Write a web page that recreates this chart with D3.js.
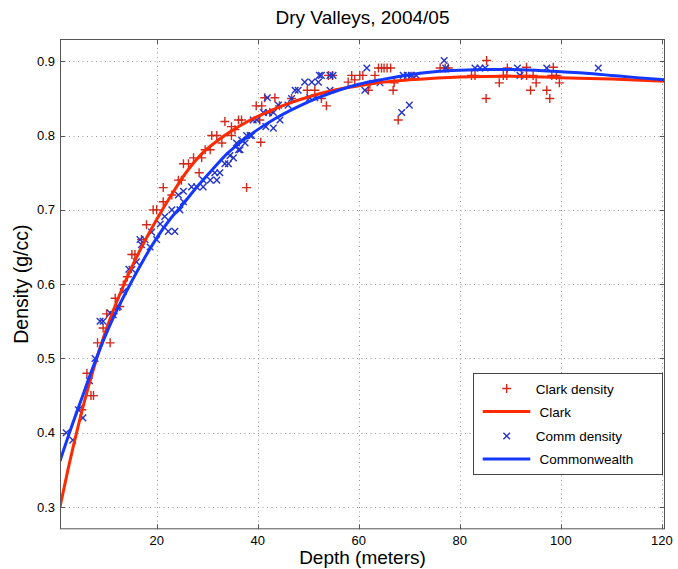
<!DOCTYPE html>
<html>
<head>
<meta charset="utf-8">
<script src="https://cdn.jsdelivr.net/npm/d3@7"></script>
<style>
  body { margin: 0; background: #fff; }
  text { font-family: "Liberation Sans", Arial, Helvetica, sans-serif; fill: #000; }
</style>
</head>
<body>
<svg id="chart" width="678" height="569"></svg>
<script>
// measured samples, [depth m, density g/cc]
var clarkSamples = [
  [5.2,0.431],[6.2,0.480],[7.0,0.450],[7.5,0.450],[8.3,0.521],[9.4,0.541],[10.1,0.560],
  [10.8,0.521],[11.4,0.560],[11.8,0.581],[12.7,0.570],[13.4,0.599],[14.2,0.610],[15.1,0.640],
  [15.7,0.640],[17.0,0.660],[18.0,0.680],[19.3,0.700],[20.0,0.700],[21.3,0.730],[21.3,0.711],
  [23.0,0.720],[24.3,0.740],[24.9,0.740],[25.3,0.762],[26.3,0.762],[27.3,0.770],[28.4,0.750],
  [28.9,0.770],[29.6,0.781],[30.6,0.781],[30.9,0.800],[31.9,0.800],[32.9,0.790],[33.5,0.819],
  [34.8,0.812],[34.8,0.800],[35.5,0.808],[36.2,0.821],[36.8,0.821],[37.8,0.730],[39.7,0.840],
  [40.4,0.821],[40.6,0.791],[40.8,0.840],[41.4,0.851],[42.4,0.831],[43.4,0.851],[44.3,0.840],
  [46.7,0.850],[49.8,0.861],[51.3,0.861],[52.6,0.850],[53.6,0.840],[54.0,0.881],[54.8,0.881],
  [57.9,0.872],[58.6,0.881],[59.2,0.875],[60.2,0.881],[60.8,0.881],[61.9,0.861],[62.2,0.869],
  [63.2,0.881],[63.9,0.891],[64.5,0.891],[65.0,0.891],[65.6,0.891],[66.3,0.891],[66.8,0.861],
  [67.0,0.871],[67.8,0.821],[70.5,0.880],[76.1,0.891],[77.1,0.891],[77.7,0.891],[82.3,0.881],
  [83.0,0.881],[85.2,0.850],[85.3,0.901],[87.8,0.871],[88.6,0.881],[89.3,0.881],[89.4,0.891],
  [92.2,0.881],[93.2,0.892],[93.2,0.881],[94.0,0.861],[94.5,0.881],[95.1,0.871],[97.2,0.861],
  [97.8,0.850],[98.2,0.881],[98.5,0.892],[99.1,0.881],[99.7,0.871]
];
var commSamples = [
  [2.1,0.400],[3.4,0.390],[4.5,0.431],[5.4,0.420],[6.7,0.470],[7.8,0.500],[8.8,0.550],
  [9.4,0.550],[10.8,0.561],[11.4,0.559],[12.4,0.570],[13.4,0.590],[14.5,0.620],[15.1,0.620],
  [16.0,0.630],[16.7,0.660],[17.0,0.653],[17.7,0.660],[18.7,0.650],[19.0,0.670],[20.0,0.660],
  [20.7,0.681],[21.6,0.691],[22.3,0.671],[23.0,0.700],[23.6,0.671],[24.3,0.720],[24.6,0.700],
  [25.3,0.725],[25.3,0.711],[26.9,0.731],[27.9,0.731],[29.2,0.731],[29.2,0.740],[30.6,0.740],
  [31.5,0.750],[31.9,0.740],[32.5,0.750],[33.5,0.762],[34.2,0.762],[34.5,0.773],[35.2,0.770],
  [35.8,0.790],[36.2,0.781],[36.5,0.781],[36.8,0.794],[37.5,0.790],[37.8,0.800],[38.5,0.800],
  [38.8,0.800],[39.1,0.821],[39.8,0.821],[41.1,0.831],[41.6,0.812],[41.9,0.851],[42.1,0.831],
  [43.1,0.831],[43.1,0.810],[44.1,0.841],[44.4,0.821],[46.0,0.841],[46.7,0.850],[47.4,0.861],
  [48.0,0.861],[49.3,0.872],[50.3,0.851],[50.7,0.872],[51.3,0.851],[52.0,0.872],[52.2,0.881],
  [52.6,0.881],[54.3,0.861],[54.3,0.881],[54.9,0.881],[61.2,0.861],[61.6,0.891],[64.2,0.871],
  [68.5,0.831],[68.8,0.881],[69.6,0.881],[70.0,0.841],[70.4,0.881],[71.4,0.881],[76.9,0.901],
  [77.2,0.891],[83.0,0.891],[84.0,0.891],[85.0,0.891],[91.4,0.891],[91.9,0.881],[97.2,0.891],
  [107.4,0.891]
];
// fitted curves
var clarkFit = [
  [0.87,0.300],[2.5,0.352],[4.5,0.410],[6.5,0.462],[8.5,0.508],[10.5,0.548],[12.5,0.583],
  [15,0.622],[17.5,0.656],[20,0.687],[23,0.721],[26,0.752],[29,0.776],[32,0.793],[35,0.807],
  [38,0.819],[42,0.832],[46,0.843],[50,0.852],[55,0.861],[60,0.867],[65,0.872],[70,0.875],
  [80,0.879],[90,0.880],[100,0.878],[110,0.876],[120.6,0.873]
];
var commFit = [
  [0.87,0.362],[3,0.405],[5,0.443],[7.5,0.490],[10,0.533],[12.5,0.570],[15,0.603],
  [17.5,0.634],[20,0.662],[22.5,0.686],[25,0.706],[28,0.731],[31,0.754],[34,0.776],
  [37,0.793],[40,0.808],[44,0.825],[48,0.839],[52,0.851],[56,0.861],[60,0.869],[65,0.876],
  [70,0.882],[75,0.886],[80,0.888],[85,0.889],[90,0.889],[95,0.888],[100,0.886],[105,0.884],
  [110,0.881],[115,0.878],[120.6,0.875]
];
var xTicks = [20, 40, 60, 80, 100, 120];
var yTicks = [0.3, 0.4, 0.5, 0.6, 0.7, 0.8, 0.9];
var legendLabels = ["Clark density", " Clark", "Comm density", " Commonwealth"];

var redLine = "#ff2a00", redMark = "#d0281c",
    blueLine = "#1438ff", blueMark = "#2433c8";

var plotL = 60, plotR = 665, plotT = 39, plotB = 529.3;

var svg = d3.select("#chart");

var x = d3.scaleLinear().domain([0.87, 120.6]).range([plotL, plotR]);
var y = d3.scaleLinear().domain([0.27, 0.93]).range([plotB, plotT]);

svg.append("rect")
  .attr("width", 678).attr("height", 569).attr("fill", "#fff");

// grid
var grid = svg.append("g").attr("stroke", "#9a9a9a").attr("stroke-dasharray", "1,3.5");
grid.selectAll(".gx").data(xTicks).enter().append("line")
  .attr("x1", function(d) { return Math.round(x(d)) + 0.5; })
  .attr("x2", function(d) { return Math.round(x(d)) + 0.5; })
  .attr("y1", plotT).attr("y2", plotB);
grid.selectAll(".gy").data(yTicks).enter().append("line")
  .attr("y1", function(d) { return Math.round(y(d)) + 0.5; })
  .attr("y2", function(d) { return Math.round(y(d)) + 0.5; })
  .attr("x1", plotL).attr("x2", plotR);

svg.append("clipPath").attr("id", "clip")
  .append("rect").attr("x", plotL).attr("y", plotT)
  .attr("width", plotR - plotL).attr("height", plotB - plotT);

var plot = svg.append("g").attr("clip-path", "url(#clip)");

var line = d3.line()
  .x(function(d) { return x(d[0]); })
  .y(function(d) { return y(d[1]); })
  .curve(d3.curveMonotoneX);

function plus(g, cx, cy, r, color) {
  g.append("path")
    .attr("d", "M" + (cx - r) + "," + cy + "H" + (cx + r) + "M" + cx + "," + (cy - r) + "V" + (cy + r))
    .attr("stroke", color).attr("stroke-width", 1.4).attr("fill", "none");
}
function cross(g, cx, cy, r, color) {
  g.append("path")
    .attr("d", "M" + (cx - r) + "," + (cy - r) + "L" + (cx + r) + "," + (cy + r) +
               "M" + (cx - r) + "," + (cy + r) + "L" + (cx + r) + "," + (cy - r))
    .attr("stroke", color).attr("stroke-width", 1.4).attr("fill", "none");
}

var marks = plot.append("g");
clarkSamples.forEach(function(d) { plus(marks, x(d[0]), y(d[1]), 4.5, redMark); });
commSamples.forEach(function(d) { cross(marks, x(d[0]), y(d[1]), 3.3, blueMark); });

plot.append("path").datum(clarkFit)
  .attr("d", line).attr("fill", "none").attr("stroke", redLine).attr("stroke-width", 3);
plot.append("path").datum(commFit)
  .attr("d", line).attr("fill", "none").attr("stroke", blueLine).attr("stroke-width", 3);

// frame and ticks (inside, on all four sides)
var frame = svg.append("g").attr("stroke", "#555").attr("fill", "none");
frame.append("rect")
  .attr("x", plotL + 0.5).attr("y", plotT + 0.5)
  .attr("width", plotR - plotL - 1).attr("height", plotB - plotT - 1);
xTicks.forEach(function(d) {
  var px = Math.round(x(d)) + 0.5;
  frame.append("line").attr("x1", px).attr("x2", px).attr("y1", plotB).attr("y2", plotB - 5);
  frame.append("line").attr("x1", px).attr("x2", px).attr("y1", plotT).attr("y2", plotT + 5);
});
yTicks.forEach(function(d) {
  var py = Math.round(y(d)) + 0.5;
  frame.append("line").attr("y1", py).attr("y2", py).attr("x1", plotL).attr("x2", plotL + 5);
  frame.append("line").attr("y1", py).attr("y2", py).attr("x1", plotR).attr("x2", plotR - 5);
});

// tick labels
svg.selectAll(".xl").data(xTicks).enter().append("text")
  .attr("x", function(d) { return x(d); })
  .attr("y", 545)
  .attr("text-anchor", "middle")
  .style("font-size", "13px")
  .text(function(d) { return d; });
svg.selectAll(".yl").data(yTicks).enter().append("text")
  .attr("x", 55)
  .attr("y", function(d) { return y(d) + 4.5; })
  .attr("text-anchor", "end")
  .style("font-size", "13px")
  .text(function(d) { return d.toFixed(1); });

// titles
svg.append("text")
  .attr("x", (plotL + plotR) / 2).attr("y", 24)
  .attr("text-anchor", "middle").style("font-size", "19px")
  .text("Dry Valleys, 2004/05");
svg.append("text")
  .attr("x", (plotL + plotR) / 2).attr("y", 564)
  .attr("text-anchor", "middle").style("font-size", "19px")
  .text("Depth (meters)");
svg.append("text")
  .attr("transform", "translate(28," + ((plotT + plotB) / 2) + ")rotate(-90)")
  .attr("text-anchor", "middle").style("font-size", "19.5px")
  .text("Density (g/cc)");

// legend
var lg = svg.append("g");
lg.append("rect")
  .attr("x", 473.5).attr("y", 373.5).attr("width", 189).attr("height", 101)
  .attr("fill", "#fff").attr("stroke", "#444");
var rows = [388.5, 411.5, 436, 459];
plus(lg, 506.7, rows[0], 4.5, redMark);
lg.append("line").attr("x1", 482.7).attr("x2", 530.3).attr("y1", rows[1]).attr("y2", rows[1])
  .attr("stroke", redLine).attr("stroke-width", 3);
cross(lg, 506.7, rows[2], 3.3, blueMark);
lg.append("line").attr("x1", 482.7).attr("x2", 530.3).attr("y1", rows[3]).attr("y2", rows[3])
  .attr("stroke", blueLine).attr("stroke-width", 3);
lg.selectAll("text").data(legendLabels).enter().append("text")
  .attr("x", 535.7)
  .attr("y", function(d, i) { return rows[i] + 5; })
  .style("font-size", "13.5px")
  .style("white-space", "pre")
  .attr("xml:space", "preserve")
  .text(function(d) { return d; });
</script>
</body>
</html>
